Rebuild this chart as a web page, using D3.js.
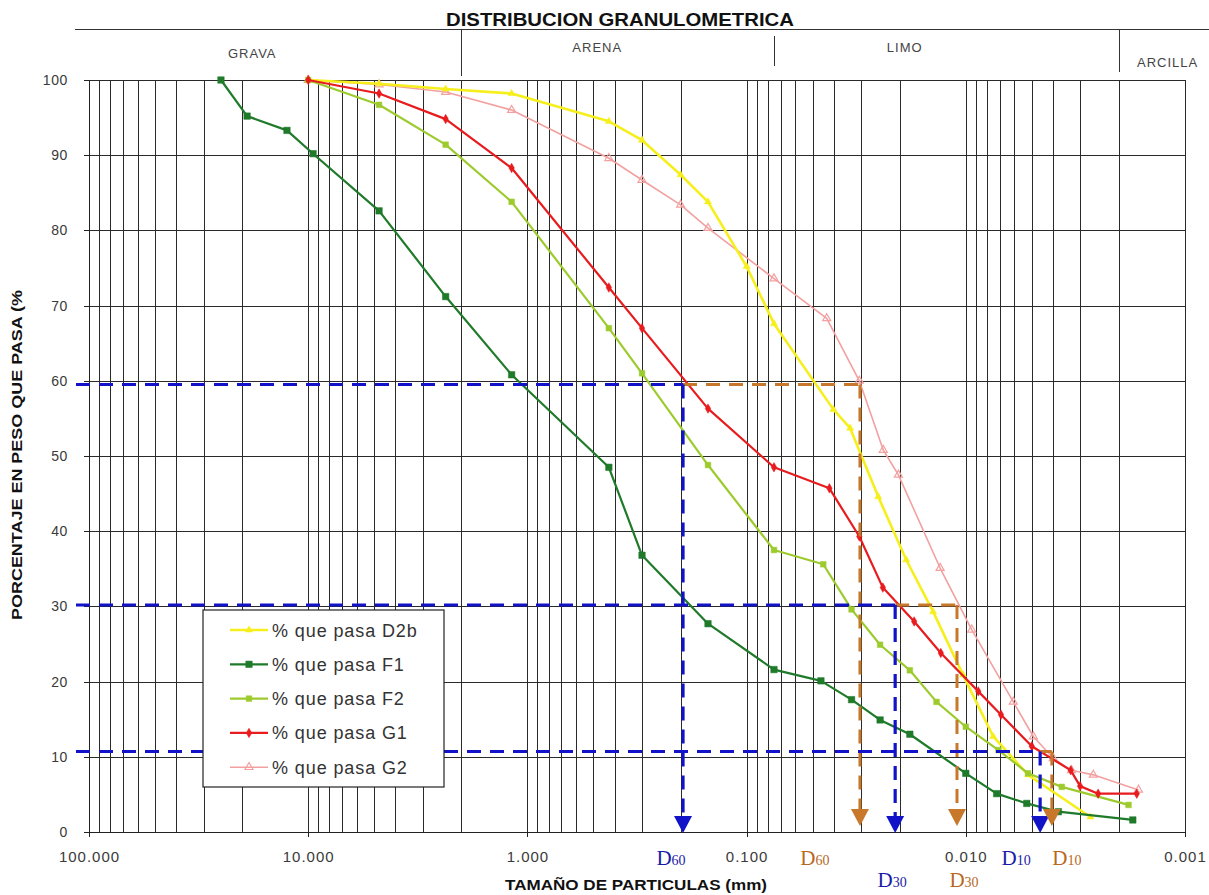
<!DOCTYPE html>
<html lang="es">
<head>
  <meta charset="UTF-8">
  <title>Distribucion granulometrica</title>
  <script src="https://d3js.org/d3.v7.min.js"></script>
  <style>
    body { margin: 0; background: #fff; font-family: Arial, "Liberation Sans", sans-serif; }
    .grid line { stroke: #2a2a2a; stroke-width: 1; shape-rendering: crispEdges; }
    .axis path, .axis line { stroke: #222; shape-rendering: crispEdges; }
    .axis text { font-size: 14px; fill: #3a3a3a; letter-spacing: 0.6px; font-family: Arial, "Liberation Sans", sans-serif; }
    .xaxis text { font-size: 15px; letter-spacing: 1px; }
    .curve { fill: none; stroke-linejoin: round; }
  </style>
</head>
<body>
  <svg width="1209" height="895"></svg>
  <script>
    // tamaños (mm) y % que pasa
    const d2bSize = [10, 4.75, 2.36, 1.18, 0.425, 0.3, 0.2, 0.15, 0.1, 0.075, 0.0402, 0.0337, 0.0251, 0.0187, 0.0141, 0.0103, 0.0075, 0.0052, 0.0027];
    const d2bPass = [100, 99.5, 98.8, 98.2, 94.5, 92.0, 87.4, 83.8, 75.2, 67.6, 56.2, 53.7, 44.6, 36.2, 29.3, 20.9, 12.7, 7.6, 2.0];

    const f1Size = [25, 19, 12.5, 9.5, 4.75, 2.36, 1.18, 0.425, 0.3, 0.15, 0.075, 0.0458, 0.0332, 0.0246, 0.018, 0.01, 0.00723, 0.00527, 0.00378, 0.00173];
    const f1Pass = [100, 95.2, 93.3, 90.2, 82.6, 71.2, 60.8, 48.5, 36.8, 27.7, 21.6, 20.1, 17.6, 14.9, 13.0, 7.8, 5.1, 3.8, 2.7, 1.6];

    const f2Size = [10, 4.75, 2.36, 1.18, 0.425, 0.3, 0.15, 0.075, 0.0447, 0.0332, 0.0246, 0.018, 0.0136, 0.01, 0.0071, 0.0052, 0.00365, 0.00181];
    const f2Pass = [100, 96.7, 91.4, 83.8, 67.0, 61.0, 48.8, 37.5, 35.6, 29.6, 24.9, 21.5, 17.3, 14.0, 10.9, 7.8, 6.0, 3.6];

    const g1Size = [10, 4.75, 2.36, 1.18, 0.425, 0.3, 0.15, 0.075, 0.0419, 0.0306, 0.0239, 0.0172, 0.013, 0.00877, 0.00691, 0.005, 0.00332, 0.00301, 0.00249, 0.00166];
    const g1Pass = [100, 98.2, 94.8, 88.3, 72.4, 67.0, 56.3, 48.5, 45.7, 39.3, 32.5, 28.0, 23.8, 18.7, 15.6, 11.4, 8.2, 6.1, 5.1, 5.1];

    const g2Size = [10, 4.75, 2.36, 1.18, 0.425, 0.3, 0.2, 0.15, 0.075, 0.0431, 0.0306, 0.0238, 0.0203, 0.0131, 0.0094, 0.00607, 0.00492, 0.00399, 0.00329, 0.00262, 0.00163];
    const g2Pass = [100, 99.4, 98.4, 96.0, 89.6, 86.7, 83.4, 80.3, 73.6, 68.3, 60.0, 50.8, 47.5, 35.1, 26.9, 17.3, 12.7, 9.8, 8.2, 7.6, 5.6];

    const seriesNames = ["% que pasa D2b", "% que pasa F1", "% que pasa F2", "% que pasa G1", "% que pasa G2"];

    // ejes
    const xTicks = [100, 10, 1, 0.1, 0.01, 0.001];
    const xTickLabels = ["100.000", "10.000", "1.000", "0.100", "0.010", "0.001"];
    const yTicks = [0, 10, 20, 30, 40, 50, 60, 70, 80, 90, 100];

    // zonas
    const zoneLimits = [2, 0.075, 0.002];
    const zoneNames = ["GRAVA", "ARENA", "LIMO", "ARCILLA"];
    const zoneLabelAt = [18, 0.48, 0.019, 0.0012];

    // diametros efectivos
    const dLabels = ["60", "30", "10"];
    const dLevels = [59.5, 30.2, 10.7];
    const dG1 = [0.195, 0.0210, 0.00458];
    const dG2 = [0.0304, 0.01097, 0.00405];

    const svg = d3.select("svg");
    svg.append("rect").attr("width", 1209).attr("height", 895).attr("fill", "#fff");

    const x = d3.scaleLog().domain([100, 0.001]).range([89, 1185]);
    const y = d3.scaleLinear().domain([0, 100]).range([832, 80]);

    // titulo y zonas
    svg.append("text")
      .attr("x", 620).attr("y", 26)
      .attr("text-anchor", "middle")
      .attr("textLength", 348).attr("lengthAdjust", "spacingAndGlyphs")
      .style("font-size", "19px").style("font-weight", "bold").style("fill", "#111")
      .text("DISTRIBUCION GRANULOMETRICA");
    svg.append("line").attr("x1", 75).attr("x2", 1209).attr("y1", 29.5).attr("y2", 29.5)
      .attr("stroke", "#333").attr("stroke-width", 1.2);
    const sepTop = [29.5, 36, 29.5];
    const sepBottom = [76, 66, 72];
    zoneLimits.forEach((d, i) => {
      svg.append("line")
        .attr("x1", Math.round(x(d)) + 0.5).attr("x2", Math.round(x(d)) + 0.5)
        .attr("y1", sepTop[i]).attr("y2", sepBottom[i])
        .attr("stroke", "#333");
    });
    const zoneBase = [58, 52, 52, 67];
    zoneNames.forEach((n, i) => {
      svg.append("text")
        .attr("x", x(zoneLabelAt[i])).attr("y", zoneBase[i])
        .attr("text-anchor", "middle")
        .style("font-size", "13px").style("letter-spacing", "1px").style("fill", "#444")
        .text(n);
    });

    // rejilla
    const grid = svg.append("g").attr("class", "grid");
    grid.selectAll(".v").data(x.ticks()).enter().append("line")
      .attr("x1", d => Math.round(x(d)) + 0.5).attr("x2", d => Math.round(x(d)) + 0.5)
      .attr("y1", y(100)).attr("y2", y(0));
    grid.selectAll(".h").data(yTicks).enter().append("line")
      .attr("x1", x(100)).attr("x2", x(0.001))
      .attr("y1", d => Math.round(y(d)) + 0.5).attr("y2", d => Math.round(y(d)) + 0.5);

    // ejes
    svg.append("g").attr("class", "axis xaxis")
      .attr("transform", "translate(0,832)")
      .call(d3.axisBottom(x).tickValues(xTicks).tickFormat((d, i) => xTickLabels[i]).tickSizeInner(5).tickSizeOuter(0).tickPadding(14));
    svg.append("g").attr("class", "axis")
      .attr("transform", "translate(89,0)")
      .call(d3.axisLeft(y).tickValues(yTicks).tickSizeInner(5).tickSizeOuter(0).tickPadding(16));

    svg.append("text")
      .attr("transform", "translate(22,455) rotate(-90)")
      .attr("text-anchor", "middle")
      .attr("textLength", 330).attr("lengthAdjust", "spacingAndGlyphs")
      .style("font-size", "14px").style("font-weight", "bold").style("fill", "#111")
      .text("PORCENTAJE EN PESO QUE PASA (%");
    svg.append("text")
      .attr("x", 636).attr("y", 890)
      .attr("text-anchor", "middle")
      .attr("textLength", 262).attr("lengthAdjust", "spacingAndGlyphs")
      .style("font-size", "14px").style("font-weight", "bold").style("fill", "#111")
      .text("TAMAÑO DE PARTICULAS (mm)");

    // curvas
    const series = [
      { name: seriesNames[4], size: g2Size, pass: g2Pass, color: "#f3a0a0", w: 1.6, sym: d3.symbolTriangle, ss: 28, hollow: true },
      { name: seriesNames[0], size: d2bSize, pass: d2bPass, color: "#f6ef1c", w: 2.6, sym: d3.symbolTriangle, ss: 22 },
      { name: seriesNames[2], size: f2Size, pass: f2Pass, color: "#9dcb2e", w: 2.2, sym: d3.symbolSquare, ss: 32 },
      { name: seriesNames[1], size: f1Size, pass: f1Pass, color: "#1f7a2a", w: 2.2, sym: d3.symbolSquare, ss: 42 },
      { name: seriesNames[3], size: g1Size, pass: g1Pass, color: "#e81b1e", w: 2.2, sym: d3.symbolDiamond, ss: 26 }
    ];

    const line = d3.line().x(d => x(d[0])).y(d => y(d[1]));

    series.forEach(s => {
      const pts = s.size.map((v, i) => [v, s.pass[i]]);
      svg.append("path").datum(pts).attr("class", "curve")
        .attr("d", line).attr("stroke", s.color).attr("stroke-width", s.w);
      svg.append("g").selectAll("path").data(pts).enter().append("path")
        .attr("transform", d => `translate(${x(d[0])},${y(d[1])})`)
        .attr("d", d3.symbol().type(s.sym).size(s.ss))
        .attr("fill", s.hollow ? "none" : s.color)
        .attr("stroke", s.color).attr("stroke-width", s.hollow ? 1.2 : 0.5);
    });

    // lineas D (azul: G1, naranja: G2)
    const blue = "#1212c8", orange = "#c8782a";
    const dash = "14,9";
    function arrow(cx, tip, color) {
      svg.append("path")
        .attr("d", `M${cx - 9},${tip - 17}L${cx + 9},${tip - 17}L${cx},${tip}Z`)
        .attr("fill", color);
    }
    dLevels.forEach((lv, i) => {
      const yy = y(lv), xb = x(dG1[i]), xo = x(dG2[i]);
      svg.append("line").attr("x1", 76).attr("x2", xb).attr("y1", yy).attr("y2", yy)
        .attr("stroke", blue).attr("stroke-width", 3).attr("stroke-dasharray", dash);
      svg.append("line").attr("x1", xb).attr("x2", xo).attr("y1", yy).attr("y2", yy)
        .attr("stroke", orange).attr("stroke-width", 3).attr("stroke-dasharray", dash);
      svg.append("line").attr("x1", xb).attr("x2", xb).attr("y1", yy).attr("y2", 818)
        .attr("stroke", blue).attr("stroke-width", 3.2).attr("stroke-dasharray", dash);
      svg.append("line").attr("x1", xo).attr("x2", xo).attr("y1", yy).attr("y2", 812)
        .attr("stroke", orange).attr("stroke-width", 3).attr("stroke-dasharray", dash);
      arrow(xb, 833, blue);
      arrow(xo, 826, orange);
    });

    // etiquetas D
    const labBase = [865, 887, 865];
    const blueNudge = [-12, -3, -24];
    const orangeNudge = [-45, 7, 15];
    function dLabel(cx, base, sub, color) {
      const t = svg.append("text")
        .attr("x", cx).attr("y", base)
        .attr("text-anchor", "middle")
        .style("font-family", "'Liberation Serif', 'Times New Roman', serif")
        .style("fill", color);
      t.append("tspan").style("font-size", "21px").text("D");
      t.append("tspan").style("font-size", "14px").text(sub);
    }
    dLevels.forEach((lv, i) => {
      dLabel(x(dG1[i]) + blueNudge[i], labBase[i], dLabels[i], "#1a1aa8");
      dLabel(x(dG2[i]) + orangeNudge[i], labBase[i], dLabels[i], "#b8681e");
    });

    // leyenda
    const legend = svg.append("g").attr("transform", "translate(203,610)");
    legend.append("rect").attr("width", 241).attr("height", 177)
      .attr("fill", "#fff").attr("stroke", "#222").attr("stroke-width", 1.2);
    const legOrder = [1, 3, 2, 4, 0];
    legOrder.forEach((si, i) => {
      const s = series[si];
      const cy = 20 + i * 34.3;
      legend.append("line").attr("x1", 27).attr("x2", 65).attr("y1", cy).attr("y2", cy)
        .attr("stroke", s.color).attr("stroke-width", s.w);
      legend.append("path").attr("transform", `translate(46,${cy})`)
        .attr("d", d3.symbol().type(s.sym).size(s.ss))
        .attr("fill", s.hollow ? "none" : s.color)
        .attr("stroke", s.color).attr("stroke-width", s.hollow ? 1.2 : 0.5);
      legend.append("text").attr("x", 69).attr("y", cy + 6.5)
        .style("font-size", "18px").style("letter-spacing", "0.9px").style("fill", "#333")
        .text(s.name);
    });
  </script>
</body>
</html>
